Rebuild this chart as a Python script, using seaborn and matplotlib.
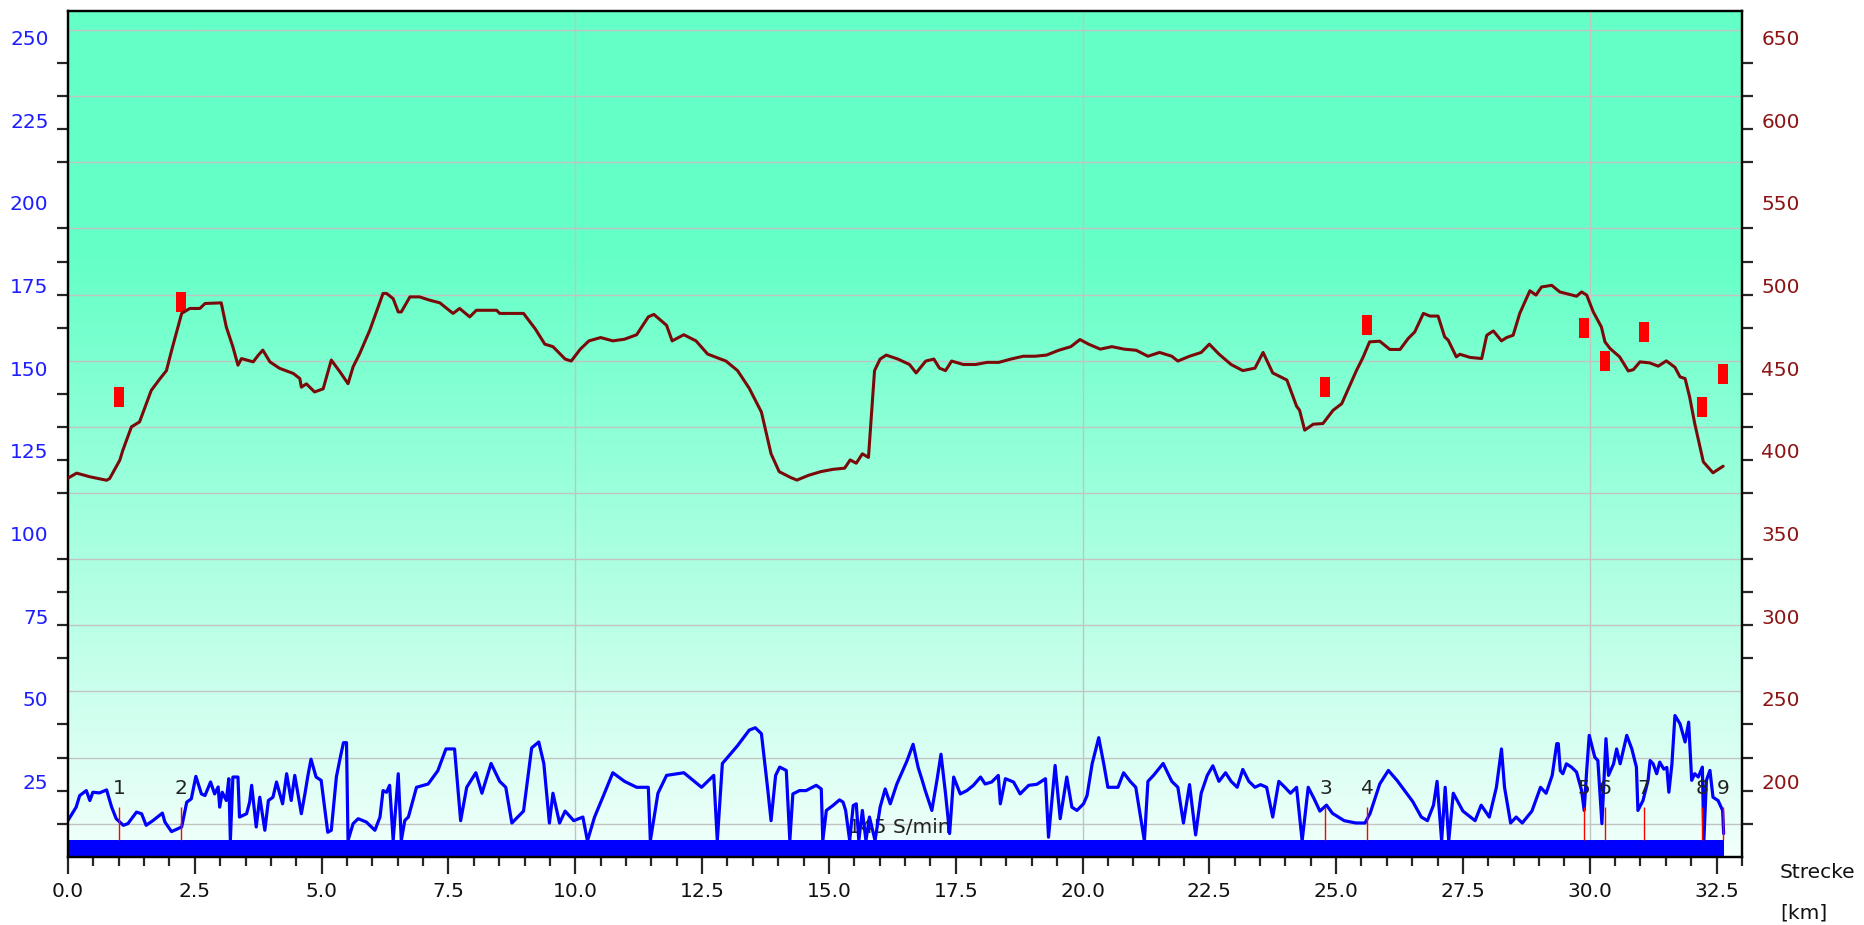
import matplotlib
matplotlib.use("Agg")
import matplotlib.pyplot as plt
import numpy as np
import seaborn as sns
from matplotlib.ticker import MultipleLocator, FixedLocator, FormatStrFormatter

sns.set_style("white")
plt.rcParams['font.family'] = ['DejaVu Sans']

# elevation profile (right axis, m)
elev_km = [0.00, 0.17, 0.43, 0.76, 0.82, 1.02, 1.08, 1.25, 1.41, 1.64, 1.81, 1.94, 2.04, 2.24, 2.40,
           2.60, 2.70, 3.02, 3.12, 3.25, 3.35, 3.42, 3.65, 3.75, 3.84, 3.98, 4.17, 4.44, 4.57, 4.60,
           4.70, 4.86, 5.03, 5.19, 5.36, 5.52, 5.62, 5.75, 5.95, 6.21, 6.28, 6.41, 6.51, 6.57, 6.74,
           6.93, 7.13, 7.33, 7.59, 7.72, 7.92, 8.05, 8.45, 8.51, 8.98, 9.21, 9.40, 9.56, 9.80, 9.92,
           10.10, 10.27, 10.50, 10.74, 10.97, 11.21, 11.44, 11.55, 11.80, 11.91, 12.14, 12.38, 12.61,
           12.97, 13.20, 13.43, 13.67, 13.86, 14.02, 14.25, 14.37, 14.60, 14.84, 15.08, 15.31, 15.42,
           15.54, 15.66, 15.78, 15.90, 16.01, 16.13, 16.36, 16.59, 16.72, 16.91, 17.07, 17.18, 17.30,
           17.42, 17.65, 17.89, 18.12, 18.35, 18.59, 18.83, 19.06, 19.29, 19.53, 19.77, 19.95, 20.12,
           20.35, 20.58, 20.82, 21.06, 21.29, 21.52, 21.76, 21.88, 22.11, 22.34, 22.50, 22.69, 22.93,
           23.16, 23.40, 23.56, 23.75, 24.03, 24.22, 24.28, 24.38, 24.55, 24.74, 24.94, 25.11, 25.24,
           25.40, 25.53, 25.66, 25.86, 26.06, 26.26, 26.42, 26.55, 26.72, 26.85, 27.01, 27.14, 27.21,
           27.37, 27.44, 27.64, 27.87, 27.97, 28.10, 28.26, 28.36, 28.49, 28.62, 28.82, 28.94, 29.05,
           29.25, 29.41, 29.74, 29.84, 29.94, 30.07, 30.23, 30.30, 30.40, 30.59, 30.76, 30.86, 30.99,
           31.18, 31.35, 31.51, 31.68, 31.78, 31.88, 31.97, 32.07, 32.24, 32.43, 32.63]
elev_m = [379, 382, 379.8, 377.7, 378.7, 389.8, 395.8, 410, 413, 432, 439, 444, 456, 478.6, 481.6,
          481.6, 484.6, 485, 470.4, 458.4, 447.3, 451.3, 449.3, 453.3, 456.4, 449.3, 445.4, 442.3, 439.2, 434,
          436, 431.1, 433, 450.4, 443.3, 436.1, 446.3, 454.3, 468.5, 490.7, 490.7, 487.5, 479.5, 479.5, 488.6,
          488.6, 486.6, 485, 478.6, 481.6, 476.5, 480.5, 480.5, 478.6, 478.6, 469.3, 460, 458.5, 451, 449.8,
          457, 462, 464, 462, 463, 465.7, 476.5, 478, 471.4, 462, 465.7, 462, 454,
          449.8, 444, 433.3, 418.9, 393.7, 382.9, 379.3, 377.8, 380.7, 382.9, 384.3, 385, 390,
          388, 393.7, 391.5, 444, 451, 453.4, 451, 447.7, 442.6, 449.8, 451, 445.5, 444,
          449.8, 447.7, 447.7, 449, 449, 451, 452.7, 452.7, 453.4, 456.3, 458.5, 462.8, 460,
          457, 458.5, 457, 456.3, 452.7, 455, 452.7, 449.8, 452.7, 455, 460, 454, 447.7,
          444, 445.5, 455, 442.6, 438.3, 422.5, 420, 408, 411.6, 412, 420, 424, 433,
          444, 452, 461.4, 461.8, 456.8, 456.8, 463.4, 467.4, 478.6, 477, 477, 464.4, 462.4,
          452.3, 453.9, 452, 451.3, 465.4, 468, 462, 464, 465.4, 478.6, 492.3, 489.7, 494.6,
          495.6, 491.6, 489, 491.6, 489.7, 479.5, 470.4, 461.4, 457.4, 452.3, 443.8, 444.6, 449.3,
          448.7, 446.7, 449.9, 446, 440.2, 439.2, 428, 412, 388.8, 382.2, 386.2]

# blue series (left axis)
cad_km = [0.00, 0.16, 0.23, 0.36, 0.43, 0.49, 0.62, 0.76, 0.86, 0.95, 1.09, 1.18, 1.35, 1.45, 1.54,
          1.68, 1.86, 1.91, 2.04, 2.24, 2.34, 2.43, 2.52, 2.63, 2.70, 2.81, 2.89, 2.96, 2.99, 3.04,
          3.12, 3.17, 3.20, 3.25, 3.35, 3.38, 3.52, 3.58, 3.62, 3.71, 3.78, 3.88, 3.95, 4.04, 4.11,
          4.23, 4.31, 4.40, 4.47, 4.60, 4.67, 4.73, 4.79, 4.89, 4.99, 5.12, 5.19, 5.29, 5.36, 5.43,
          5.49, 5.52, 5.62, 5.72, 5.88, 6.05, 6.15, 6.21, 6.28, 6.34, 6.41, 6.51, 6.57, 6.64, 6.71,
          6.87, 7.10, 7.29, 7.45, 7.62, 7.74, 7.86, 8.04, 8.16, 8.34, 8.51, 8.63, 8.75, 8.98, 9.14,
          9.28, 9.38, 9.49, 9.56, 9.69, 9.80, 9.97, 10.15, 10.24, 10.38, 10.57, 10.74, 10.97, 11.21,
          11.44, 11.48, 11.63, 11.80, 12.14, 12.49, 12.73, 12.80, 12.90, 13.20, 13.43, 13.55, 13.67,
          13.79, 13.86, 13.95, 14.03, 14.16, 14.23, 14.29, 14.42, 14.55, 14.75, 14.85, 14.88, 14.95,
          15.08, 15.21, 15.28, 15.33, 15.41, 15.48, 15.54, 15.59, 15.66, 15.73, 15.80, 15.91, 16.01,
          16.11, 16.21, 16.34, 16.54, 16.66, 16.76, 16.84, 16.90, 17.03, 17.13, 17.21, 17.30, 17.38,
          17.46, 17.59, 17.72, 17.85, 17.99, 18.08, 18.21, 18.34, 18.38, 18.48, 18.64, 18.77, 18.94,
          19.10, 19.27, 19.33, 19.46, 19.56, 19.69, 19.79, 19.89, 20.02, 20.09, 20.19, 20.32, 20.42,
          20.50, 20.70, 20.81, 20.94, 21.05, 21.22, 21.29, 21.40, 21.59, 21.76, 21.88, 21.99, 22.11,
          22.23, 22.34, 22.46, 22.57, 22.69, 22.82, 22.93, 23.05, 23.16, 23.28, 23.40, 23.51, 23.63,
          23.75, 23.87, 23.99, 24.10, 24.22, 24.33, 24.45, 24.57, 24.68, 24.81, 24.93, 25.16, 25.39,
          25.57, 25.67, 25.86, 26.03, 26.20, 26.51, 26.68, 26.80, 26.92, 26.99, 27.08, 27.15, 27.22,
          27.31, 27.50, 27.74, 27.86, 28.02, 28.16, 28.26, 28.32, 28.44, 28.55, 28.67, 28.86, 29.03,
          29.14, 29.26, 29.35, 29.38, 29.42, 29.47, 29.54, 29.64, 29.74, 29.84, 29.89, 29.94, 29.99,
          30.10, 30.16, 30.24, 30.32, 30.37, 30.47, 30.53, 30.60, 30.73, 30.83, 30.92, 30.95, 31.05,
          31.15, 31.19, 31.25, 31.32, 31.38, 31.46, 31.52, 31.56, 31.62, 31.68, 31.78, 31.88, 31.95,
          32.01, 32.07, 32.14, 32.22, 32.25, 32.30, 32.37, 32.43, 32.53, 32.62, 32.64]
cad_val = [11.0, 15.0, 18.5, 20.0, 17.0, 19.5, 19.3, 20.2, 15.0, 11.5, 9.5, 10.0, 13.5, 13.0, 9.5,
           11.0, 13.2, 10.5, 7.6, 9.0, 16.5, 17.5, 24.3, 19.0, 18.5, 22.6, 19.0, 21.1, 15.0, 19.5,
           17.0, 23.6, 4.9, 24.1, 24.1, 12.0, 13.0, 16.5, 21.6, 9.0, 18.0, 8.0, 17.0, 18.0, 22.6,
           16.0, 25.1, 17.0, 24.6, 13.0, 19.0, 24.6, 29.5, 24.1, 23.1, 7.4, 8.0, 24.1, 29.5, 34.5,
           34.5, 4.9, 10.0, 11.5, 10.5, 8.0, 12.0, 20.0, 19.5, 21.6, 4.9, 25.1, 4.9, 11.0, 12.0,
           21.0, 22.0, 26.0, 32.6, 32.6, 10.9, 21.0, 25.4, 19.2, 28.2, 22.8, 21.0, 10.2, 13.8, 32.9,
           34.7, 28.2, 10.2, 19.2, 10.2, 13.8, 10.9, 12.0, 4.8, 12.0, 19.0, 25.4, 22.8, 21.0,
           21.0, 4.8, 19.2, 24.6, 25.4, 21.0, 24.6, 4.8, 28.2, 33.6, 38.3, 39.0, 37.2,
           21.0, 10.9, 24.6, 27.1, 26.1, 4.9, 19.0, 20.0, 20.0, 21.6, 20.5, 4.9, 14.0,
           15.5, 17.2, 16.5, 14.0, 4.9, 15.5, 16.0, 4.9, 14.0, 4.9, 12.0, 4.9, 15.0,
           20.5, 16.0, 22.0, 29.0, 34.0, 27.0, 23.1, 20.0, 14.0, 23.1, 31.0, 19.0, 7.0,
           24.1, 19.0, 20.0, 21.6, 24.1, 22.0, 22.6, 24.6, 16.0, 23.6, 22.6, 19.0, 21.6,
           21.9, 23.6, 5.9, 27.6, 11.5, 24.1, 15.0, 14.0, 16.0, 18.5, 28.1, 36.0, 28.0,
           21.0, 21.0, 25.4, 22.8, 21.0, 4.8, 22.8, 24.6, 28.2, 22.8, 21.0, 10.2, 21.8,
           6.6, 19.2, 24.6, 27.5, 22.8, 25.4, 22.8, 21.0, 26.4, 22.8, 21.0, 21.8, 21.0,
           12.0, 22.8, 21.0, 19.2, 21.0, 4.8, 21.0, 17.4, 13.8, 15.6, 13.1, 10.9, 10.2,
           10.2, 13.1, 22.0, 26.1, 23.1, 16.7, 12.0, 10.9, 15.6, 22.8, 4.8, 21.0, 4.8,
           19.2, 13.8, 10.9, 15.6, 12.0, 21.0, 32.6, 21.0, 10.2, 12.0, 10.2, 13.8, 21.0,
           19.2, 24.6, 34.2, 34.2, 26.0, 25.1, 28.1, 27.1, 25.6, 20.0, 14.0, 26.1, 36.7,
           30.1, 29.1, 10.0, 35.7, 24.6, 28.1, 32.6, 28.1, 36.7, 32.6, 27.1, 14.0, 17.0,
           23.1, 29.1, 28.1, 25.1, 28.6, 26.5, 27.0, 19.5, 28.0, 42.7, 40.2, 34.7, 40.7,
           23.1, 25.1, 24.1, 27.1, 4.9, 23.1, 26.1, 18.0, 17.0, 14.0, 7.0]

# laps
lap_km = [1.00, 2.22, 24.79, 25.61, 29.89, 30.30, 31.07, 32.22, 32.62]
lap_names = ["1", "2", "3", "4", "5", "6", "7", "8", "9"]
lap_marker = [138.9, 167.9, 141.9, 160.8, 159.9, 149.8, 158.8, 135.9, 145.9]

BLUE = "#0000FF"
DARKRED = "#7A0A0A"
FS = 14.5

fig = plt.figure(figsize=(18.64, 9.25), dpi=100)
ax = fig.add_axes([0.0365, 0.0738, 0.8980, 0.9143])
ax2 = ax.twinx()

x_max = 33.0
l_top = 255.75

# background gradient
lv = np.linspace(0, l_top, 600)
f = np.clip((183.4 - lv) / 183.4, 0, 1)
top_c = np.array([99, 255, 199]) / 255
bot_c = np.array([242, 255, 251]) / 255
grad = top_c + f[:, None] * (bot_c - top_c)
ax.imshow(grad[:, None, :], extent=[0, x_max, 0, l_top], origin="lower",
          aspect="auto", zorder=0, interpolation="bilinear")

# grid
for g in np.arange(10, l_top, 20):
    ax.axhline(g, color="#C3C3C3", lw=1.0, zorder=1)
for g in [10, 20, 30]:
    ax.axvline(g, color="#C3C3C3", lw=1.0, zorder=1)

# bottom bar
ax.fill_between([0, cad_km[-1]], 0, 5, color=BLUE, lw=0, zorder=2)

ax.text(15.37, 8.9, "145 S/min", ha="left", va="center", fontsize=FS,
        color="#222222", zorder=2.5)

sns.lineplot(x=cad_km, y=cad_val, ax=ax, color=BLUE, lw=2.3, sort=False,
             estimator=None, zorder=3)

ax.vlines(lap_km, 5, 15, colors="red", lw=1, zorder=3.5)
for k, n in zip(lap_km, lap_names):
    ax.text(k, 20.6, n, ha="center", va="center", fontsize=FS, color="#222222", zorder=4)

verts = [(-0.26, -0.5), (0.26, -0.5), (0.26, 0.5), (-0.26, 0.5), (-0.26, -0.5)]
ax.scatter(lap_km, lap_marker, marker=verts, s=190, color="red", linewidths=0, zorder=5)

sns.lineplot(x=elev_km, y=elev_m, ax=ax2, color=DARKRED, lw=2.2, sort=False,
             estimator=None, zorder=3)

# axes
ax.set_xlim(0, x_max)
ax.set_ylim(0, l_top)
ax2.set_ylim(150, 150 + 2 * l_top)
ax.set_xlabel("")
ax.set_ylabel("")
ax2.set_ylabel("")

ax.xaxis.set_major_locator(MultipleLocator(2.5))
ax.xaxis.set_minor_locator(MultipleLocator(0.5))
ax.xaxis.set_major_formatter(FormatStrFormatter("%.1f"))
ax.tick_params(axis="x", which="major", bottom=True, length=12, width=1.6,
               direction="out", labelsize=FS, pad=6, labelcolor="#111111")
ax.tick_params(axis="x", which="minor", bottom=True, length=6.5, width=1.6, direction="out")

ax.set_yticks(np.arange(25, 251, 25))
ax.yaxis.set_minor_locator(FixedLocator(np.arange(10, l_top, 10)))
ax.tick_params(axis="y", which="major", left=True, right=False, length=0, pad=14,
               labelsize=FS, labelcolor="#1E1EFF")
ax.tick_params(axis="y", which="minor", left=True, right=False, length=8, width=1.6,
               direction="out")

ax2.set_yticks(np.arange(200, 651, 50))
ax2.yaxis.set_minor_locator(FixedLocator(np.arange(170, 150 + 2 * l_top, 20)))
ax2.tick_params(axis="y", which="major", right=True, left=False, length=0, pad=14,
                labelsize=FS, labelcolor="#8C1414")
ax2.tick_params(axis="y", which="minor", right=True, left=False, length=8, width=1.6,
                direction="out")

plt.setp(ax.get_yticklabels(), va="top")
plt.setp(ax2.get_yticklabels(), va="top")

for a in (ax, ax2):
    for s in a.spines.values():
        s.set_color("black")
        s.set_linewidth(1.6)

fig.text(1780 / 1864, 1 - 873 / 925, "Strecke", ha="left", va="center", fontsize=FS,
         color="#111111")
fig.text(1780 / 1864, 1 - 913 / 925, "[km]", ha="left", va="center", fontsize=FS,
         color="#111111")

fig.savefig("out.png", dpi=100)
